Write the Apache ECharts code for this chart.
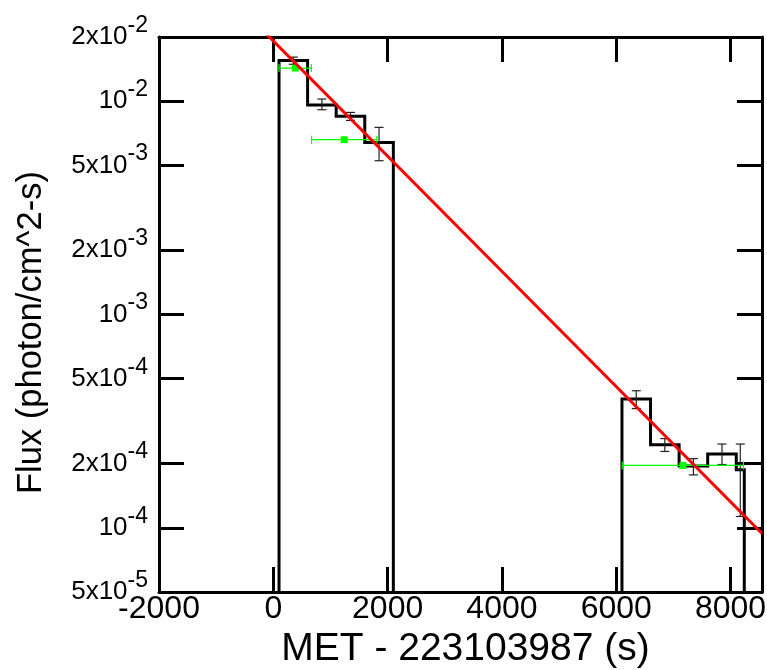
<!DOCTYPE html>
<html>
<head>
<meta charset="utf-8">
<script src="https://cdn.jsdelivr.net/npm/echarts@6/dist/echarts.min.js"></script>
<style>
  html, body { margin: 0; padding: 0; background: #fff; }
  #chart { width: 767px; height: 670px; }
</style>
</head>
<body>
<div id="chart"></div>
<script>
// Binned light curve, first observing window (s since MET 223103987)
const binEdges1 = [100, 600, 1100, 1600, 2100];
const binFlux1 = [0.0155, 0.0096, 0.0085, 0.0064];
const binErrLo1 = [0.0149, 0.00912, 0.00813, 0.00526];
const binErrHi1 = [0.0161, 0.01024, 0.00886, 0.00754];

// Binned light curve, second observing window
const binEdges2 = [6100, 6600, 7100, 7600, 8100, 8240];
const binFlux2 = [4.02e-4, 2.45e-4, 1.95e-4, 2.22e-4, 1.87e-4];
const binErrLo2 = [3.62e-4, 2.28e-4, 1.77e-4, 1.98e-4, 1.13e-4];
const binErrHi2 = [4.39e-4, 2.62e-4, 2.11e-4, 2.47e-4, 2.47e-4];

// Coarse flux points with their time ranges
const ptTime = [385, 1240, 7165];
const ptTimeLo = [100, 670, 6105];
const ptTimeHi = [665, 1810, 8225];
const ptFlux = [0.0143, 0.0066, 1.96e-4];

// Exponential decay fit (a straight line on the log axis)
const fitTime = [-200, 8550];
const fitFlux = [0.0217, 9.4e-5];

// Axis ranges and ticks
const xMin = -2000, xMax = 8550;
const yMin = 5e-5, yMax = 2e-2;
const xTicks = [-2000, 0, 2000, 4000, 6000, 8000];
const yTicks = [5e-5, 1e-4, 2e-4, 5e-4, 1e-3, 2e-3, 5e-3, 1e-2, 2e-2];
const yTickMant = ['5', '', '2', '5', '', '2', '5', '', '2'];
const yTickExp = ['-5', '-4', '-4', '-4', '-3', '-3', '-3', '-2', '-2'];

const FONT = "'Liberation Sans', Arial, Helvetica, sans-serif";

// Step outline of a histogram: up from the floor, across each bin, back down.
function outline(edges, flux) {
  const pts = [[edges[0], yMin]];
  for (let i = 0; i < flux.length; i++) {
    pts.push([edges[i], flux[i]]);
    pts.push([edges[i + 1], flux[i]]);
  }
  pts.push([edges[edges.length - 1], yMin]);
  return pts;
}

function binErrors(edges, lo, hi) {
  return lo.map((v, i) => [(edges[i] + edges[i + 1]) / 2, v, hi[i]]);
}

// Tick positions for the frame axes that carry the log-scale labels
const logTicks = yTicks.map(v => Math.log10(v));
const logMin = Math.log10(yMin), logMax = Math.log10(yMax);

function yLabel(val) {
  let best = 0;
  for (let i = 1; i < logTicks.length; i++) {
    if (Math.abs(logTicks[i] - val) < Math.abs(logTicks[best] - val)) best = i;
  }
  const m = yTickMant[best];
  return '{b|' + (m ? m + 'x10' : '10') + '}{s|' + yTickExp[best] + '}';
}

const axisLineStyle = { onZero: false, lineStyle: { color: '#000', width: 3 } };
const tickStyle = { color: '#000', width: 3 };

const chart = echarts.init(document.getElementById('chart'), null, { renderer: 'canvas' });

chart.setOption({
  animation: false,
  backgroundColor: '#fff',
  grid: {
    left: 159, right: 5, top: 37, bottom: 78,
    containLabel: false,
    outerBoundsMode: 'none'
  },
  xAxis: [
    {
      type: 'value', min: xMin, max: xMax, position: 'bottom',
      axisLine: axisLineStyle,
      axisTick: { show: true, inside: true, length: 25, lineStyle: tickStyle, customValues: xTicks },
      axisLabel: {
        customValues: xTicks, formatter: v => String(v),
        fontSize: 32, color: '#000', fontFamily: FONT, margin: 1
      },
      splitLine: { show: false },
      name: 'MET - 223103987 (s)',
      nameLocation: 'middle', nameGap: 30,
      nameTextStyle: { fontSize: 39, color: '#000', fontFamily: FONT, padding: [0, 0, 0, 10] }
    },
    {
      type: 'value', min: xMin, max: xMax, position: 'top',
      axisLine: axisLineStyle,
      axisTick: { show: true, inside: true, length: 25, lineStyle: tickStyle, customValues: xTicks },
      axisLabel: { show: false },
      splitLine: { show: false }
    }
  ],
  yAxis: [
    {
      type: 'log', logBase: 10, min: yMin, max: yMax, position: 'left',
      axisLine: { show: false, onZero: false }, axisTick: { show: false },
      axisLabel: { show: false }, splitLine: { show: false }
    },
    {
      type: 'value', min: logMin, max: logMax, position: 'left',
      axisLine: axisLineStyle,
      axisTick: { show: true, inside: true, length: 25, lineStyle: tickStyle, customValues: logTicks },
      axisLabel: {
        customValues: logTicks, formatter: yLabel, margin: 11,
        rich: {
          b: { fontSize: 26, lineHeight: 46, color: '#000', fontFamily: FONT, verticalAlign: 'middle' },
          s: { fontSize: 23, lineHeight: 23, color: '#000', fontFamily: FONT, verticalAlign: 'top' }
        }
      },
      splitLine: { show: false },
      name: 'Flux (photon/cm^2-s)',
      nameLocation: 'middle', nameGap: 110,
      nameTextStyle: { fontSize: 34.5, color: '#000', fontFamily: FONT, padding: [0, 36, 0, 0] }
    },
    {
      type: 'value', min: logMin, max: logMax, position: 'right',
      axisLine: axisLineStyle,
      axisTick: { show: true, inside: true, length: 25, lineStyle: tickStyle, customValues: logTicks },
      axisLabel: { show: false },
      splitLine: { show: false }
    }
  ],
  series: [
    {
      name: 'bins early', type: 'line', xAxisIndex: 0, yAxisIndex: 0,
      data: outline(binEdges1, binFlux1), symbol: 'none', z: 2,
      lineStyle: { color: '#000', width: 3, join: 'miter' }
    },
    {
      name: 'bins late', type: 'line', xAxisIndex: 0, yAxisIndex: 0,
      data: outline(binEdges2, binFlux2), symbol: 'none', z: 2,
      lineStyle: { color: '#000', width: 3, join: 'miter' }
    },
    {
      name: 'bin errors', type: 'custom', xAxisIndex: 0, yAxisIndex: 0, z: 3,
      encode: { x: 0, y: [1, 2] },
      data: binErrors(binEdges1, binErrLo1, binErrHi1).concat(binErrors(binEdges2, binErrLo2, binErrHi2)),
      renderItem(params, api) {
        const top = api.coord([api.value(0), api.value(2)]);
        const bot = api.coord([api.value(0), api.value(1)]);
        const c = 4.5;
        const st = { stroke: '#222', lineWidth: 1.2 };
        return {
          type: 'group',
          children: [
            { type: 'line', shape: { x1: top[0], y1: top[1], x2: bot[0], y2: bot[1] }, style: st },
            { type: 'line', shape: { x1: top[0] - c, y1: top[1], x2: top[0] + c, y2: top[1] }, style: st },
            { type: 'line', shape: { x1: bot[0] - c, y1: bot[1], x2: bot[0] + c, y2: bot[1] }, style: st }
          ]
        };
      }
    },
    {
      name: 'flux points', type: 'custom', xAxisIndex: 0, yAxisIndex: 0, z: 4,
      encode: { x: [0, 1, 2], y: 3 },
      data: ptTime.map((t, i) => [t, ptTimeLo[i], ptTimeHi[i], ptFlux[i]]),
      renderItem(params, api) {
        const ctr = api.coord([api.value(0), api.value(3)]);
        const lo = api.coord([api.value(1), api.value(3)]);
        const hi = api.coord([api.value(2), api.value(3)]);
        const c = 4, s = 7;
        const st = { stroke: '#00ff00', lineWidth: 1.2 };
        return {
          type: 'group',
          children: [
            { type: 'line', shape: { x1: lo[0], y1: lo[1], x2: hi[0], y2: hi[1] }, style: st },
            { type: 'line', shape: { x1: lo[0], y1: lo[1] - c, x2: lo[0], y2: lo[1] + c }, style: st },
            { type: 'line', shape: { x1: hi[0], y1: hi[1] - c, x2: hi[0], y2: hi[1] + c }, style: st },
            { type: 'rect', shape: { x: ctr[0] - s / 2, y: ctr[1] - s / 2, width: s, height: s }, style: { fill: '#00ff00' } }
          ]
        };
      }
    },
    {
      name: 'fit', type: 'line', xAxisIndex: 0, yAxisIndex: 0, z: 5,
      data: fitTime.map((t, i) => [t, fitFlux[i]]),
      symbol: 'none', clip: true,
      lineStyle: { color: '#ff0000', width: 3 }
    }
  ]
});
</script>
</body>
</html>
